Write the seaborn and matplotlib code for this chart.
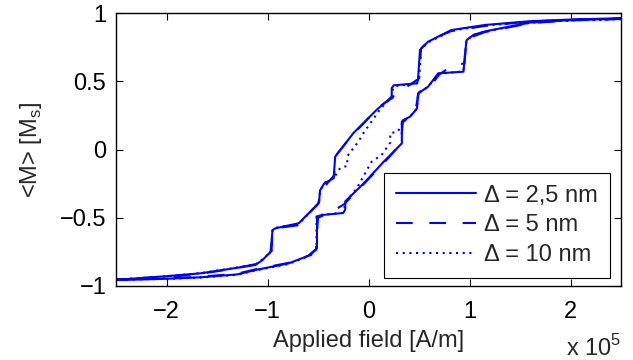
import matplotlib
matplotlib.use("Agg")
import matplotlib.pyplot as plt
import seaborn as sns
from matplotlib.ticker import FuncFormatter

# ---- data (field in units of 1e5 A/m, magnetisation in units of Ms) ----
# Delta = 2,5 nm : descending branch then ascending branch
field_25 = [2.5, 2.0, 1.6, 1.15, 0.82, 0.59, 0.51, 0.49, 0.48, 0.25, 0.23, 0.23, 0.08, -0.15,
            -0.33, -0.345, -0.44, -0.48, -0.49, -0.69, -0.92, -0.95, -0.97, -1.05, -1.12, -1.33,
            -1.66, -2.0, -2.5,
            -2.5, -2.0, -1.66, -1.3, -1.12, -0.79, -0.575, -0.51, -0.51, -0.46, -0.25, -0.23,
            -0.23, -0.05, 0.15, 0.33, 0.33, 0.345, 0.41, 0.48, 0.49, 0.59, 0.69, 0.94, 0.955,
            0.97, 1.04, 1.15, 1.6, 2.0, 2.5]
m_25 = [0.962, 0.952, 0.94, 0.912, 0.875, 0.79, 0.73, 0.51, 0.485, 0.47, 0.45, 0.387, 0.29, 0.12,
        -0.053, -0.21, -0.25, -0.30, -0.39, -0.54, -0.577, -0.59, -0.75, -0.81, -0.846, -0.87,
        -0.907, -0.928, -0.955,
        -0.957, -0.947, -0.936, -0.915, -0.883, -0.834, -0.773, -0.724, -0.49, -0.48, -0.465,
        -0.44, -0.38, -0.25, -0.09, 0.045, 0.204, 0.216, 0.24, 0.30, 0.41, 0.46, 0.558, 0.57,
        0.69, 0.80, 0.84, 0.865, 0.93, 0.948, 0.958]

# Delta = 5 nm
field_5 = [2.5, 2.0, 1.6, 1.15, 0.82, 0.6, 0.52, 0.50, 0.38, 0.26, 0.24, 0.10, -0.05, -0.15,
           -0.32, -0.34, -0.40, -0.47, -0.50, -0.62, -0.70, -0.85, -0.95, -0.96, -1.02, -1.12,
           -1.35, -1.66, -2.0, -2.5,
           -2.5, -2.0, -1.66, -1.3, -1.12, -0.79, -0.6, -0.52, -0.50, -0.36, -0.24, -0.10,
           -0.05, 0.15, 0.32, 0.34, 0.42, 0.47, 0.50, 0.62, 0.70, 0.84, 0.95, 0.96, 1.0, 1.08,
           1.15, 1.6, 2.0, 2.5]
m_5 = [0.958, 0.95, 0.938, 0.905, 0.868, 0.80, 0.74, 0.52, 0.46, 0.41, 0.38, 0.31, 0.19, 0.115,
       -0.04, -0.19, -0.24, -0.31, -0.40, -0.49, -0.555, -0.57, -0.60, -0.74, -0.80, -0.84,
       -0.875, -0.91, -0.932, -0.952,
       -0.955, -0.944, -0.932, -0.91, -0.878, -0.83, -0.78, -0.73, -0.50, -0.455, -0.40, -0.29,
       -0.255, -0.10, 0.04, 0.20, 0.25, 0.31, 0.42, 0.47, 0.55, 0.62, 0.63, 0.72, 0.82, 0.84,
       0.86, 0.926, 0.946, 0.956]

# Delta = 10 nm
field_10 = [2.5, 2.0, 1.6, 1.15, 0.82, 0.59, 0.52, 0.50, 0.47, 0.26, 0.24, 0.23, 0.12, -0.05,
            -0.10, -0.16, -0.21, -0.21, -0.28, -0.345, -0.44, -0.48, -0.49, -0.69, -0.92, -0.95,
            -0.96, -1.05, -1.12, -1.33, -1.66, -2.0, -2.5,
            -2.5, -2.0, -1.66, -1.3, -1.12, -0.79, -0.575, -0.515, -0.515, -0.46, -0.26, -0.24,
            -0.23, -0.12, 0.03, 0.13, 0.215, 0.215, 0.29, 0.345, 0.41, 0.48, 0.49, 0.59, 0.69,
            0.94, 0.955, 0.97, 1.04, 1.15, 1.6, 2.0, 2.5]
m_10 = [0.955, 0.946, 0.935, 0.908, 0.87, 0.785, 0.735, 0.50, 0.48, 0.465, 0.44, 0.385, 0.30, 0.12,
        0.057, 0.0, -0.05, -0.12, -0.135, -0.21, -0.245, -0.31, -0.39, -0.545, -0.573, -0.585,
        -0.745, -0.805, -0.842, -0.868, -0.905, -0.93, -0.952,
        -0.955, -0.948, -0.938, -0.918, -0.886, -0.838, -0.776, -0.73, -0.49, -0.478, -0.465,
        -0.44, -0.385, -0.29, -0.09, -0.04, 0.05, 0.12, 0.13, 0.21, 0.24, 0.30, 0.41, 0.46,
        0.555, 0.572, 0.69, 0.80, 0.84, 0.862, 0.928, 0.947, 0.957]

labels = ["\u0394 = 2,5 nm", "\u0394 = 5 nm", "\u0394 = 10 nm"]
x_ticks = [-2, -1, 0, 1, 2]
y_ticks = [-1, -0.5, 0, 0.5, 1]

# ---- style ----
FS = 17
sns.set_style("ticks")
plt.rcParams["font.family"] = ["Liberation Sans", "DejaVu Sans"]
plt.rcParams["font.size"] = FS
plt.rcParams["axes.unicode_minus"] = True

fig = plt.figure(figsize=(6.33, 3.6), dpi=100)
ax = fig.add_axes([116 / 633, 74 / 360, 505 / 633, 273 / 360])

blue = "#0000ff"
styles = ["-", (0, (8, 8)), (0, (1, 2.2))]
for fx, my, lab, st in zip([field_25, field_5, field_10], [m_25, m_5, m_10], labels, styles):
    sns.lineplot(x=fx, y=my, sort=False, estimator=None, color=blue, lw=1.5,
                 linestyle=st, label=lab, ax=ax)

ax.set_xlim(-2.5, 2.5)
ax.set_ylim(-1, 1)
ax.set_xticks(x_ticks)
ax.set_yticks(y_ticks)
fmt = FuncFormatter(lambda v, p: ("%g" % v).replace("-", "\u2212"))
ax.xaxis.set_major_formatter(fmt)
ax.yaxis.set_major_formatter(fmt)
ax.tick_params(direction="in", length=5, width=0.8, top=True, right=True,
               labelsize=FS, colors="black")
ax.tick_params(axis="x", pad=11)
ax.tick_params(axis="y", pad=7)
for s in ax.spines.values():
    s.set_visible(True)
    s.set_linewidth(1.0)
    s.set_color("black")

ax.set_xlabel("Applied field [A/m]", fontsize=FS, labelpad=5)
ax.set_ylabel(r"<M> [M$_\mathregular{s}$]", fontsize=FS, labelpad=11)
fig.text(621 / 633, 4 / 360, "x 10$^\\mathregular{5}$", fontsize=FS,
         ha="right", va="baseline")

leg = ax.legend(loc="lower right", bbox_to_anchor=(494 / 505, 8 / 273), borderaxespad=0,
                fontsize=FS, handlelength=3.4, handletextpad=0.35, labelspacing=0.33,
                frameon=True, fancybox=False, edgecolor="black", framealpha=1,
                borderpad=0.5)
leg.get_frame().set_linewidth(0.8)

fig.savefig("out.png", dpi=100)
